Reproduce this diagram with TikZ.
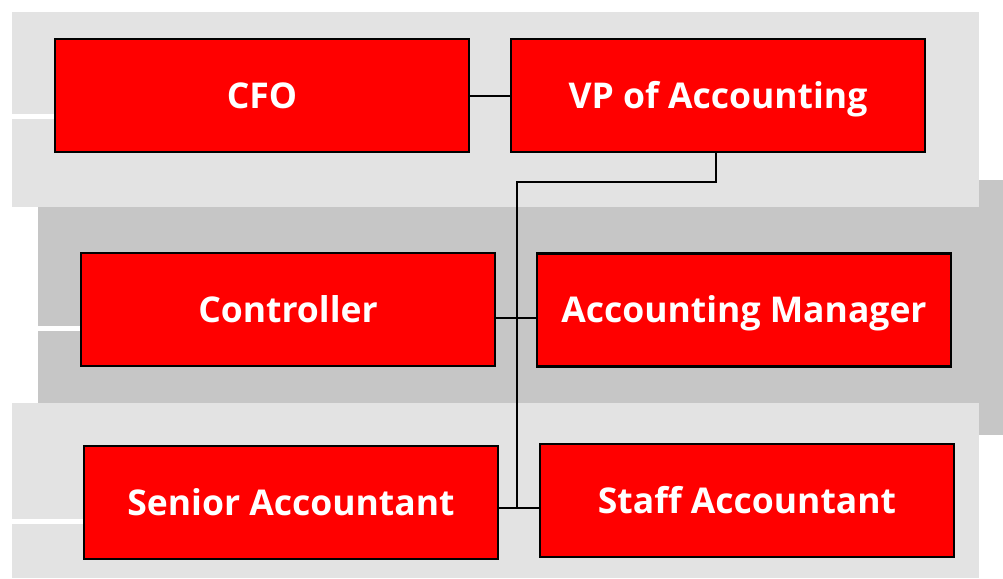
\documentclass[tikz,border=0pt]{standalone}
\usepackage{fontspec}
\setmainfont{Open Sans}
\definecolor{bandlight}{HTML}{E3E3E3}
\definecolor{banddark}{HTML}{C6C6C6}
\definecolor{boxred}{HTML}{FF0000}
\tikzset{
  rolebox/.style={draw=black, line width=2.2pt, fill=boxred, text=white,
    minimum width=414pt, minimum height=113pt, inner sep=0pt,
    text height=25.3pt, text depth=0pt,
    font=\fontsize{35.5}{40}\selectfont\bfseries},
  link/.style={draw=black, line width=2pt},
}
\begin{document}
\begin{tikzpicture}[x=1pt,y=-1pt]
\useasboundingbox (0,0) rectangle (1003,578);
% bands
\fill[banddark] (38,180) rectangle (1003,435);
\fill[bandlight] (12,12) rectangle (979,207);
\fill[bandlight] (12,403) rectangle (979,578);
\fill[white] (12,114) rectangle (55,119);
\fill[white] (38,326) rectangle (81,331);
\fill[white] (12,519) rectangle (84,524);
% boxes
\node[rolebox] (cfo) at (262,95.5) {CFO};
\node[rolebox] (vp) at (718,95.5) {VP of Accounting};
\node[rolebox] (ctrl) at (288,309.5) {Controller};
\node[rolebox] (am) at (744,310) {Accounting Manager};
\node[rolebox] (sr) at (291,502.5) {Senior Accountant};
\node[rolebox] (st) at (747,500.5) {Staff Accountant};
% junctions
\coordinate (j1) at (517,182);
\coordinate (j2) at (517,318);
\coordinate (j3) at (517,508);
% connectors
\draw[link] (cfo.east) -- (vp.west);
\draw[link] ([xshift=-2pt]vp.south) |- (j1) -- (j3);
\draw[link] (ctrl.east |- j2) -- (am.west |- j2);
\draw[link] (sr.east |- j3) -- (st.west |- j3);
\end{tikzpicture}
\end{document}
